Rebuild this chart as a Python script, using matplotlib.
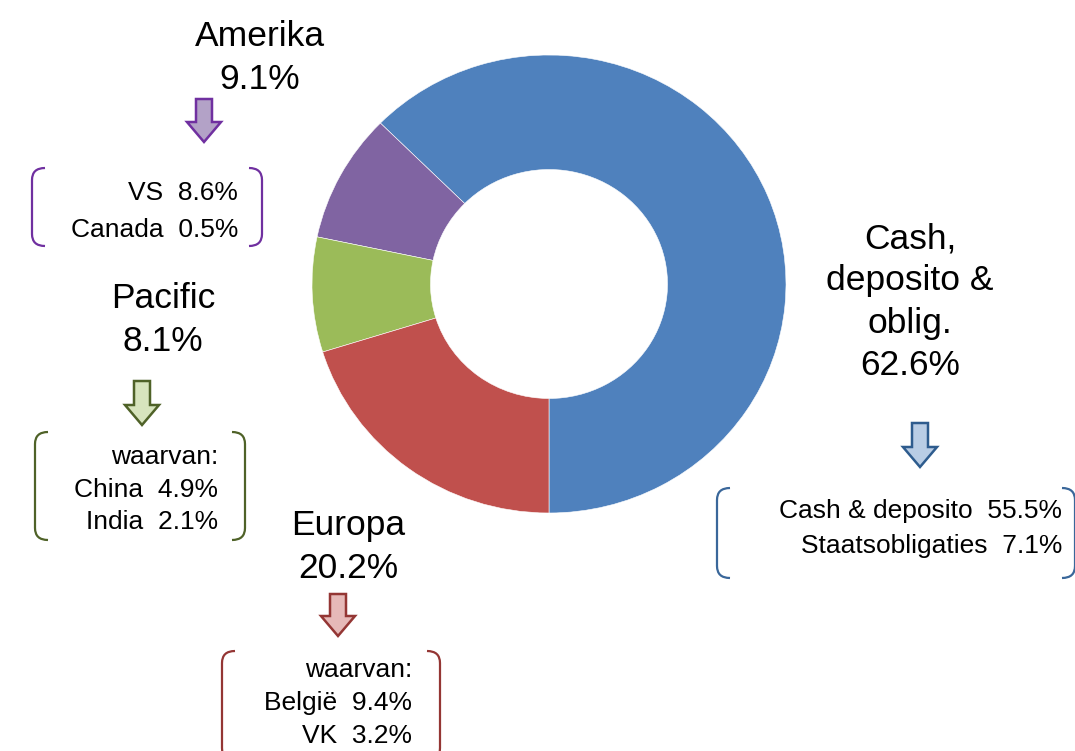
import matplotlib
matplotlib.use("Agg")
import matplotlib.pyplot as plt
from matplotlib.path import Path
from matplotlib.patches import PathPatch, Polygon

plt.rcParams['font.family'] = ['Liberation Sans', 'DejaVu Sans']

# ---- data ----
categories = ["Cash,\ndeposito &\noblig.", "Amerika", "Pacific", "Europa"]
values = [62.6, 9.1, 8.1, 20.2]
colors = ["#4F81BD", "#8064A2", "#9BBB59", "#C0504D"]

cash_labels = ["Cash & deposito", "Staatsobligaties"]
cash_values = [55.5, 7.1]
amerika_labels = ["VS", "Canada"]
amerika_values = [8.6, 0.5]
pacific_labels = ["China", "India"]
pacific_values = [4.9, 2.1]
europa_labels = ["België", "VK"]
europa_values = [9.4, 3.2]

W, H = 1075, 751
fig = plt.figure(figsize=(W / 100, H / 100), dpi=100)

# ---- donut ----
cx, cy, rx, ry = 549, 284, 237, 229
pax = fig.add_axes([(cx - rx) / W, (H - cy - ry) / H, 2 * rx / W, 2 * ry / H])
pax.pie(values, colors=colors, startangle=-90, counterclock=True,
        radius=1.0, wedgeprops=dict(width=0.5, edgecolor="white", linewidth=0.4))
pax.set_aspect('auto')
pax.set_xlim(-1, 1)
pax.set_ylim(-1, 1)
pax.axis('off')

# ---- annotation layer in pixel coordinates ----
ax = fig.add_axes([0, 0, 1, 1], zorder=3)
ax.set_xlim(0, W)
ax.set_ylim(H, 0)
ax.axis('off')
ax.patch.set_alpha(0)

big = 25.5
small = 19
ls_big = 1.35


def arrow(x, y0, y1, face, edge):
    sw, hw, hl = 8, 17, 20
    pts = [(x - sw, y0), (x + sw, y0), (x + sw, y1 - hl), (x + hw, y1 - hl),
           (x, y1), (x - hw, y1 - hl), (x - sw, y1 - hl)]
    ax.add_patch(Polygon(pts, closed=True, facecolor=face, edgecolor=edge, lw=1.8))


def bracket(x0, x1, y0, y1, color, stub=13, r=12):
    for side in (0, 1):
        if side == 0:
            xe, xi = x0, x0 + stub
        else:
            xe, xi = x1, x1 - stub
        verts = [(xi, y0), (xe, y0), (xe, y0 + r), (xe, y1 - r), (xe, y1), (xi, y1)]
        codes = [Path.MOVETO, Path.CURVE3, Path.CURVE3, Path.LINETO, Path.CURVE3, Path.CURVE3]
        ax.add_patch(PathPatch(Path(verts, codes), facecolor="none", edgecolor=color, lw=1.6))


def lines(xr, ys, texts):
    for y, t in zip(ys, texts):
        ax.text(xr, y, t, ha="right", va="center", fontsize=small, color="black")


# Cash
ax.text(910, 302, f"{categories[0]}\n{values[0]}%", ha="center", va="center",
        fontsize=big, linespacing=ls_big)
arrow(920, 423, 467, "#B9CDE5", "#2E5C8E")
bracket(717, 1075, 488, 578, "#3A679A")
lines(1062, [511, 546], [f"{l}  {v}%" for l, v in zip(cash_labels, cash_values)])

# Amerika
ax.text(260, 58, f"{categories[1]}\n{values[1]}%", ha="center", va="center",
        fontsize=big, linespacing=ls_big)
arrow(204, 99, 142, "#B3A2C7", "#7030A0")
bracket(32, 262, 168, 246, "#7030A0")
lines(238, [193, 230], [f"{l}  {v}%" for l, v in zip(amerika_labels, amerika_values)])

# Pacific
ax.text(163, 320, f"{categories[2]}\n{values[2]}%", ha="center", va="center",
        fontsize=big, linespacing=ls_big)
arrow(142, 381, 425, "#D7E4BD", "#4F6228")
bracket(35, 245, 432, 540, "#4F6228")
lines(218, [457, 490, 522], ["waarvan:"] + [f"{l}  {v}%" for l, v in zip(pacific_labels, pacific_values)])

# Europa
ax.text(348, 547, f"{categories[3]}\n{values[3]}%", ha="center", va="center",
        fontsize=big, linespacing=ls_big)
arrow(338, 594, 636, "#E6B9B8", "#943634")
bracket(222, 440, 651, 760, "#943634")
lines(412, [670, 703, 736], ["waarvan:"] + [f"{l}  {v}%" for l, v in zip(europa_labels, europa_values)])

fig.savefig("out.png", dpi=100)
